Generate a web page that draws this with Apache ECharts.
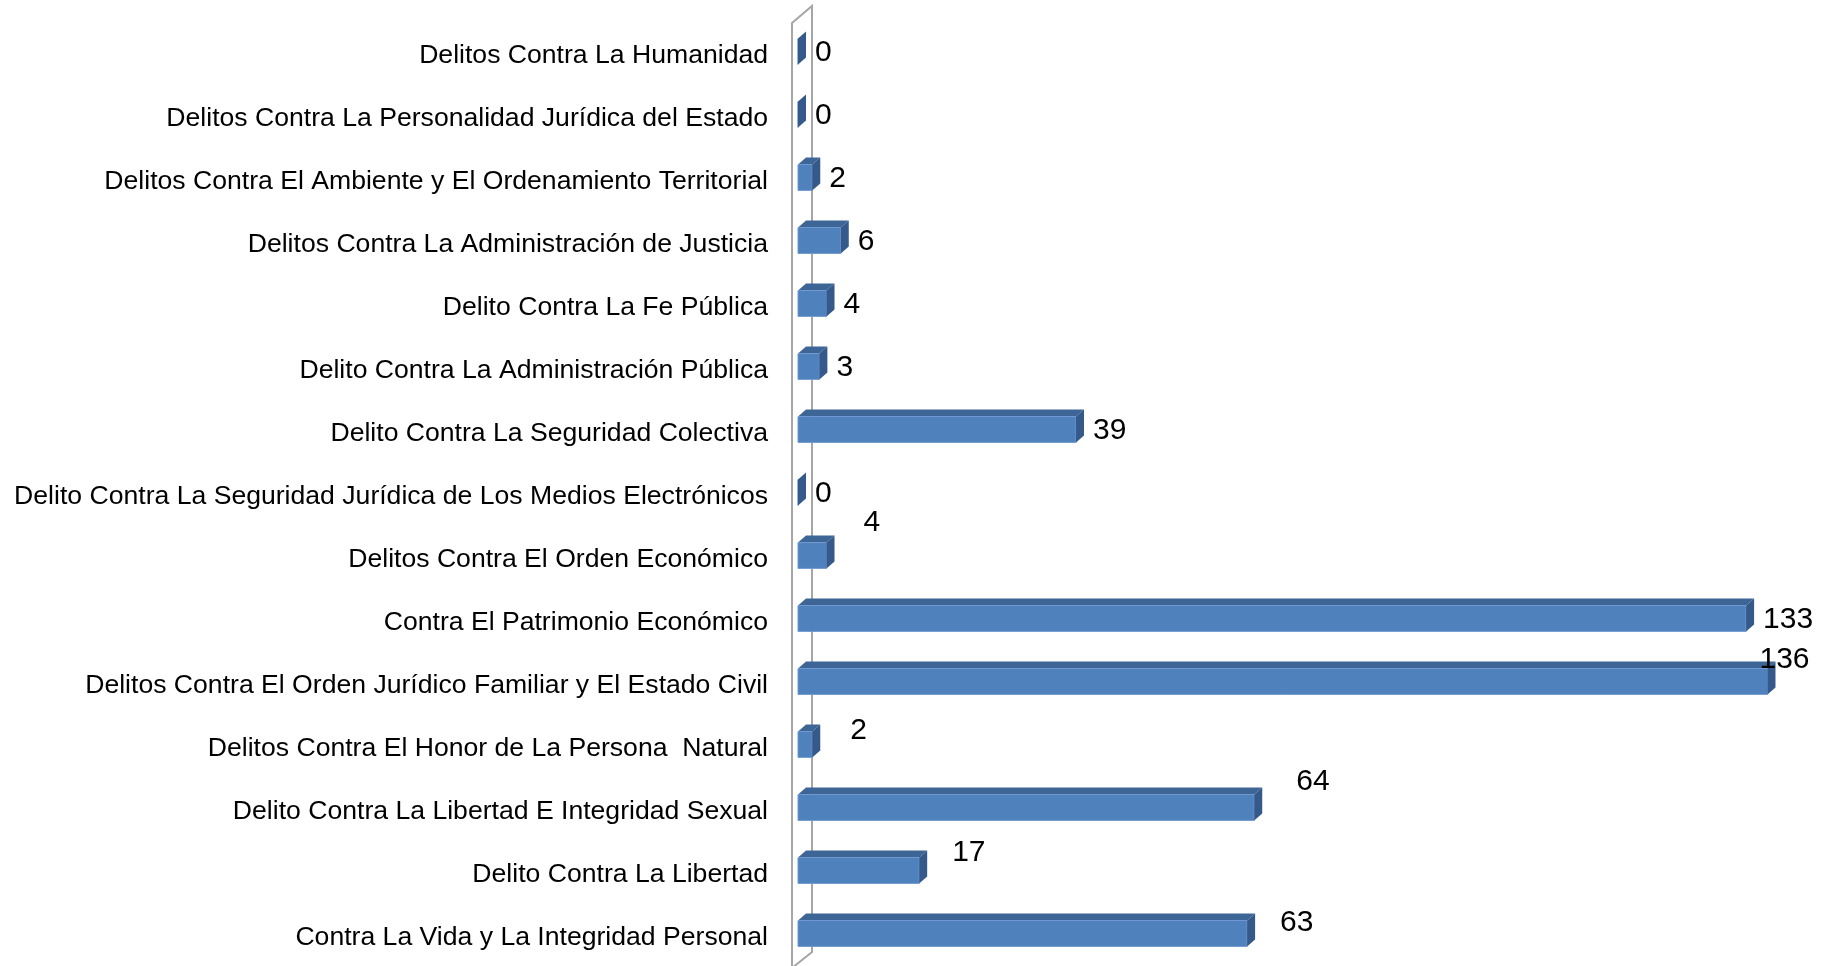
<!DOCTYPE html>
<html>
<head>
<meta charset="utf-8">
<script src="https://cdn.jsdelivr.net/npm/echarts@6/dist/echarts.min.js"></script>
<style>
  html, body { margin: 0; padding: 0; background: #fff; }
  #chart { width: 1828px; height: 966px; }
</style>
</head>
<body>
<div id="chart"></div>
<script>
// categorias (de arriba hacia abajo)
var categorias = [
  'Delitos Contra La Humanidad',
  'Delitos Contra La Personalidad Jurídica del Estado',
  'Delitos Contra El Ambiente y El Ordenamiento Territorial',
  'Delitos Contra La Administración de Justicia',
  'Delito Contra La Fe Pública',
  'Delito Contra La Administración Pública',
  'Delito Contra La Seguridad Colectiva',
  'Delito Contra La Seguridad Jurídica de Los Medios Electrónicos',
  'Delitos Contra El Orden Económico',
  'Contra El Patrimonio Económico',
  'Delitos Contra El Orden Jurídico Familiar y El Estado Civil',
  'Delitos Contra El Honor de La Persona  Natural',
  'Delito Contra La Libertad E Integridad Sexual',
  'Delito Contra La Libertad',
  'Contra La Vida y La Integridad Personal'
];
var valores = [0, 0, 2, 6, 4, 3, 39, 0, 4, 133, 136, 2, 64, 17, 63];

// etiquetas movidas a mano (como en el original), desplazamiento en px
var labelNudge = {
  8: [20, -34],
  10: [-25, -23],
  11: [21, -15],
  12: [25, -27],
  13: [16, -19],
  14: [16, -12]
};

var myChart = echarts.init(document.getElementById('chart'));

var DX = 8, DY = 7; // profundidad 3D

function renderBar(params, api) {
  var v = api.value(0), cat = api.value(1);
  var start = api.coord([0, cat]);
  var end = api.coord([v, cat]);
  var h = api.size([0, 1])[1] * 0.41;
  var x0 = start[0], x1 = end[0];
  var y0 = start[1] - h / 2, y1 = start[1] + h / 2;
  var nudge = labelNudge[params.dataIndex] || [0, 0];
  return {
    type: 'group',
    children: [
      {
        type: 'polygon',
        shape: { points: [[x0, y0], [x0 + DX, y0 - DY], [x1 + DX, y0 - DY], [x1, y0]] },
        style: { fill: '#3d6596' }
      },
      {
        type: 'rect',
        shape: { x: x0, y: y0, width: x1 - x0, height: h },
        style: { fill: '#4f81bd', stroke: '#6f9ad0', lineWidth: 1 }
      },
      {
        type: 'polygon',
        shape: { points: [[x1, y0], [x1 + DX, y0 - DY], [x1 + DX, y1 - DY], [x1, y1]] },
        style: { fill: '#35598a' }
      },
      {
        type: 'text',
        style: {
          text: String(v),
          x: x1 + 17 + nudge[0],
          y: start[1] + 1 + nudge[1],
          align: 'left',
          verticalAlign: 'middle',
          fill: '#000',
          font: '30px "Liberation Sans", Arial, sans-serif'
        }
      }
    ]
  };
}

// pared del fondo
function renderWall(params, api) {
  var cs = params.coordSys;
  var left = cs.x - 6, right = cs.x + 14;
  var top = cs.y, bottom = cs.y + cs.height;
  return {
    type: 'polygon',
    shape: { points: [[left, top + 3], [right, top - 14], [right, bottom - 13], [left, bottom + 3]] },
    style: { fill: 'none', stroke: '#a6a6a6', lineWidth: 2 }
  };
}

var option = {
  animation: false,
  grid: { left: 798, top: 20, width: 998, height: 945 },
  xAxis: {
    type: 'value',
    min: 0,
    max: 140,
    show: false
  },
  yAxis: {
    type: 'category',
    inverse: true,
    data: categorias,
    axisLine: { show: false },
    axisTick: { show: false },
    splitLine: { show: false },
    axisLabel: {
      margin: 30,
      formatter: function (v) { return '{t|' + v + '}'; },
      rich: {
        t: {
          color: '#000',
          fontSize: 26.6,
          padding: [9, 0, 0, 0],
          fontFamily: '"Liberation Sans", Arial, sans-serif'
        }
      }
    }
  },
  series: [
    {
      type: 'custom',
      z: 1,
      silent: true,
      renderItem: renderWall,
      data: [[0, 0]],
      encode: { x: 0, y: 1 }
    },
    {
      type: 'custom',
      z: 2,
      renderItem: renderBar,
      data: valores.map(function (v, i) { return [v, i]; }),
      encode: { x: 0, y: 1 }
    }
  ]
};

myChart.setOption(option);
</script>
</body>
</html>
